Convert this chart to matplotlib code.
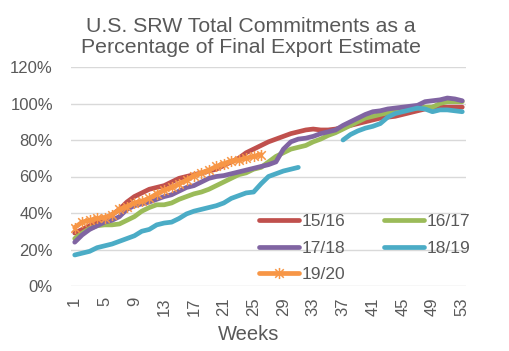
import numpy as np
import matplotlib
matplotlib.use("Agg")
import matplotlib.pyplot as plt
from matplotlib.path import Path

weeks = list(range(1, 54))
nan = np.nan

s1516 = [29, 31, 33, 35, 37, 39, 42, 46, 49, 51, 53, 54, 55, 57, 59, 60, 61, 62, 63, 64,
         66, 68, 70, 73, 75, 77, 79, 80.5, 82, 83.5, 84.5, 85.5, 86, 85.5, 85.5, 86, 87, 88,
         89, 90, 91, 92, 92.5, 93, 94, 95, 96, 97, 98, 98, 98, 98, 98]
s1617 = [26, 29, 31.5, 33, 33.5, 33.5, 34, 36, 38, 41, 43, 44.5, 44.5, 45.5, 47.5, 49, 50.5,
         51.5, 53, 55, 57, 59, 61, 62, 64, 65, 68, 71, 73, 75, 76, 77, 79, 80.5, 82.5, 84,
         86, 88, 90, 92, 93, 94, 95, 96, 96.5, 97, 97.5, 98, 98, 100, 101, 101, 101]
s1718 = [24, 28, 31, 33, 35, 36, 38, 42, 44, 45, 46, 47.5, 49, 50, 52, 54, 55, 57, 59, 60,
         60.5, 61.5, 62.5, 63.5, 64.5, 65.5, 66.5, 68, 75, 79, 80.5, 81, 82, 83.5, 84.5,
         85.5, 88, 90, 92, 94, 95.5, 96, 97, 97.5, 98, 98.5, 99, 101, 101.5, 102, 103,
         102.5, 101.5]
s1819 = [17, 18, 19, 21, 22, 23, 24.5, 26, 27.5, 30, 31, 33.5, 34.5, 35, 37, 39.5, 41, 42,
         43, 44, 45.5, 48, 49.5, 51, 51.5, 56, 60, 61.5, 63, 64, 65, nan, nan, nan, nan, nan,
         80, 83, 85, 86.5, 87.5, 89, 92.5, 94.5, 95.5, 96.5, 97.5, 97, 95.5, 96.5, 96.5,
         96, 95.5]
s1920 = [32, 35, 36, 37, 37.5, 39, 42, 43.5, 45.5, 46.5, 48, 50.5, 52.5, 54, 56, 58, 60.5,
         62, 63.5, 65.5, 67, 68.5, 69, 70, 71, 72]

series = [("15/16", s1516, "#C0504D"), ("16/17", s1617, "#9BBB59"),
          ("17/18", s1718, "#8064A2"), ("18/19", s1819, "#4BACC6")]

xticks = list(range(1, 54, 4))
yticks = [0, 20, 40, 60, 80, 100, 120]

plt.rcParams['font.family'] = ['Liberation Sans', 'DejaVu Sans']
txt = "#595959"

fig = plt.figure(figsize=(5.10, 3.51), dpi=100)
ax = fig.add_axes([71/510, 1-286/351, (466-71)/510, (286-67)/351])

handles = []
for name, vals, col in series:
    h, = ax.plot(weeks[:len(vals)], vals, color=col, lw=3.4, label=name,
                 solid_capstyle='round', solid_joinstyle='round')
    handles.append(h)

star = Path([(-1, -1), (1, 1), (-1, 1), (1, -1), (0, -1.3), (0, 1.3)],
            [Path.MOVETO, Path.LINETO, Path.MOVETO, Path.LINETO, Path.MOVETO, Path.LINETO])
h, = ax.plot(weeks[:len(s1920)], s1920, color="#F79646", lw=3.4, label="19/20",
             marker=star, markersize=8, markeredgewidth=1.1, markeredgecolor="#F79646",
             solid_capstyle='round', solid_joinstyle='round')
handles.append(h)

ax.set_xlim(0.5, 53.5)
ax.set_ylim(0, 120)
ax.set_yticks(yticks)
ax.set_yticklabels([f"{v}%" for v in yticks])
ax.set_xticks(xticks)
ax.set_xticklabels([str(v) for v in xticks], rotation=90)
ax.tick_params(axis='both', length=0, labelsize=12, colors=txt)
ax.tick_params(axis='y', pad=13)
ax.tick_params(axis='x', pad=8)
ax.grid(axis='y', color="#D9D9D9", lw=1)
ax.set_axisbelow(True)
for sp in ax.spines.values():
    sp.set_visible(False)

fig.text(251/510, 1-37/351, "U.S. SRW Total Commitments as a\nPercentage of Final Export Estimate",
         ha='center', va='center', fontsize=15.3, color=txt, linespacing=1.14)
fig.text(249/510, 1-335/351, "Weeks", ha='center', va='center', fontsize=14.5, color=txt)

order = [0, 2, 4, 1, 3]
leg = fig.legend([handles[i] for i in order], [handles[i].get_label() for i in order],
                 loc='upper left', bbox_to_anchor=(259/510, 1-214/351), ncol=2,
                 frameon=False, fontsize=12.5, handlelength=2.3, handletextpad=0.15,
                 columnspacing=2.25, labelspacing=0.66, borderpad=0, borderaxespad=0)
for t in leg.get_texts():
    t.set_color(txt)

fig.savefig("out.png", dpi=100)
